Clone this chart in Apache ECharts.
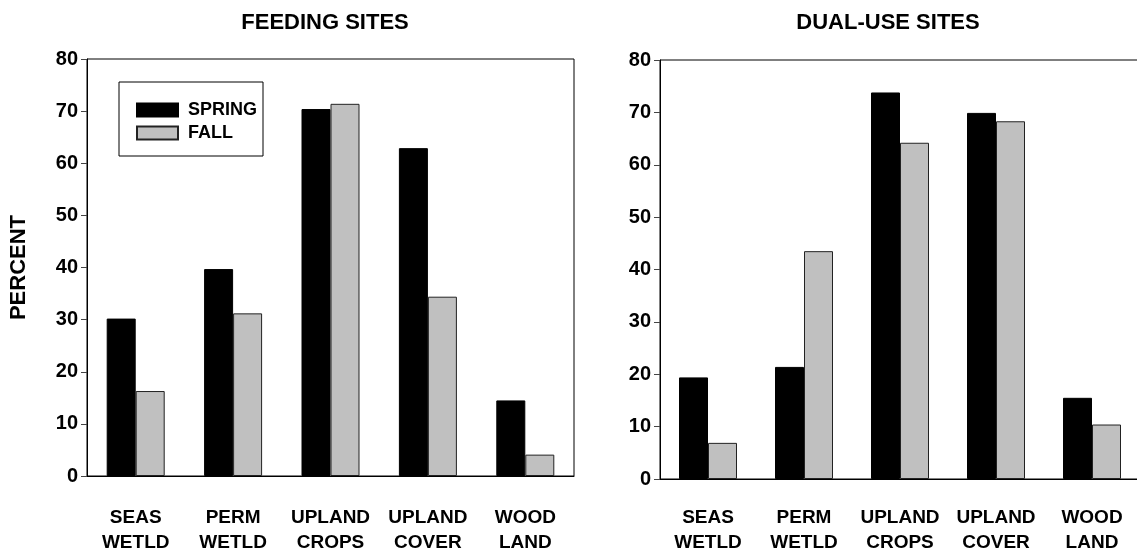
<!DOCTYPE html>
<html>
<head>
<meta charset="utf-8">
<script src="https://cdn.jsdelivr.net/npm/echarts@6/dist/echarts.min.js"></script>
<style>
html,body{margin:0;padding:0;background:#fff;}
#chart{width:1137px;height:552px;}
</style>
</head>
<body>
<div id="chart"></div>
<script>
const categories = ['SEAS\nWETLD', 'PERM\nWETLD', 'UPLAND\nCROPS', 'UPLAND\nCOVER', 'WOOD\nLAND'];
const feedingSpring = [30.2, 39.7, 70.4, 62.9, 14.5];
const feedingFall = [16.3, 31.2, 71.4, 34.4, 4.1];
const dualSpring = [19.4, 21.4, 73.8, 69.9, 15.5];
const dualFall = [6.9, 43.5, 64.2, 68.3, 10.4];
const yTicks = [0, 10, 20, 30, 40, 50, 60, 70, 80];
const titles = ['FEEDING SITES', 'DUAL-USE SITES'];

const FONT = '"Liberation Sans", Arial, sans-serif';
const chart = echarts.init(document.getElementById('chart'), null, {renderer: 'canvas'});

function xAxis(gi, margin) {
  return {
    type: 'category', gridIndex: gi, data: categories,
    axisLine: {lineStyle: {color: '#000', width: 1}},
    axisTick: {show: false},
    axisLabel: {color: '#000', fontFamily: FONT, fontWeight: 'bold', fontSize: 19, lineHeight: 25, margin: margin, interval: 0}
  };
}
function yAxis(gi, withName) {
  return {
    type: 'value', gridIndex: gi, min: yTicks[0], max: yTicks[yTicks.length - 1], interval: 10,
    name: withName ? 'PERCENT' : '', nameLocation: 'middle', nameRotate: 90, nameGap: 57,
    nameTextStyle: {color: '#000', fontFamily: FONT, fontWeight: 'bold', fontSize: 22},
    axisLine: {show: true, lineStyle: {color: '#000', width: 1}},
    axisTick: {show: true, inside: false, length: 6, lineStyle: {color: '#444'}},
    splitLine: {show: false},
    axisLabel: {color: '#000', fontFamily: FONT, fontWeight: 'bold', fontSize: 20, margin: 9}
  };
}
function bars(name, data, gi, color, border) {
  return {
    name: name, type: 'bar', xAxisIndex: gi, yAxisIndex: gi, data: data,
    barWidth: 29, barGap: '0%',
    itemStyle: {color: color, borderColor: border, borderWidth: 1},
    emphasis: {disabled: true}
  };
}

chart.setOption({
  animation: false,
  backgroundColor: '#fff',
  title: [
    {text: titles[0], left: 320, top: 7, textAlign: 'center',
     textStyle: {color: '#000', fontFamily: FONT, fontWeight: 'bold', fontSize: 22}},
    {text: titles[1], left: 883, top: 7, textAlign: 'center',
     textStyle: {color: '#000', fontFamily: FONT, fontWeight: 'bold', fontSize: 22}}
  ],
  legend: {
    data: ['SPRING', 'FALL'], orient: 'vertical', left: 119, top: 82,
    itemWidth: 41, itemHeight: 13, itemGap: 5,
    padding: [19, 6, 14, 17],
    borderColor: '#000', borderWidth: 1, backgroundColor: '#fff',
    icon: 'rect',
    selectedMode: false,
    textStyle: {color: '#000', fontFamily: FONT, fontWeight: 'bold', fontSize: 18, padding: [0, 0, 0, 5]}
  },
  grid: [
    {left: 87, right: 563, top: 59, bottom: 76, outerBoundsMode: 'none', containLabel: false,
     show: true, borderColor: '#000', borderWidth: 1, backgroundColor: 'transparent'},
    {left: 660, right: -3, top: 60, bottom: 73, outerBoundsMode: 'none', containLabel: false,
     show: true, borderColor: '#000', borderWidth: 1, backgroundColor: 'transparent'}
  ],
  xAxis: [xAxis(0, 29), xAxis(1, 26)],
  yAxis: [yAxis(0, true), yAxis(1, false)],
  series: [
    bars('SPRING', feedingSpring, 0, '#000', '#000'),
    bars('FALL', feedingFall, 0, '#c0c0c0', '#222'),
    bars('SPRING', dualSpring, 1, '#000', '#000'),
    bars('FALL', dualFall, 1, '#c0c0c0', '#222')
  ]
});
</script>
</body>
</html>
